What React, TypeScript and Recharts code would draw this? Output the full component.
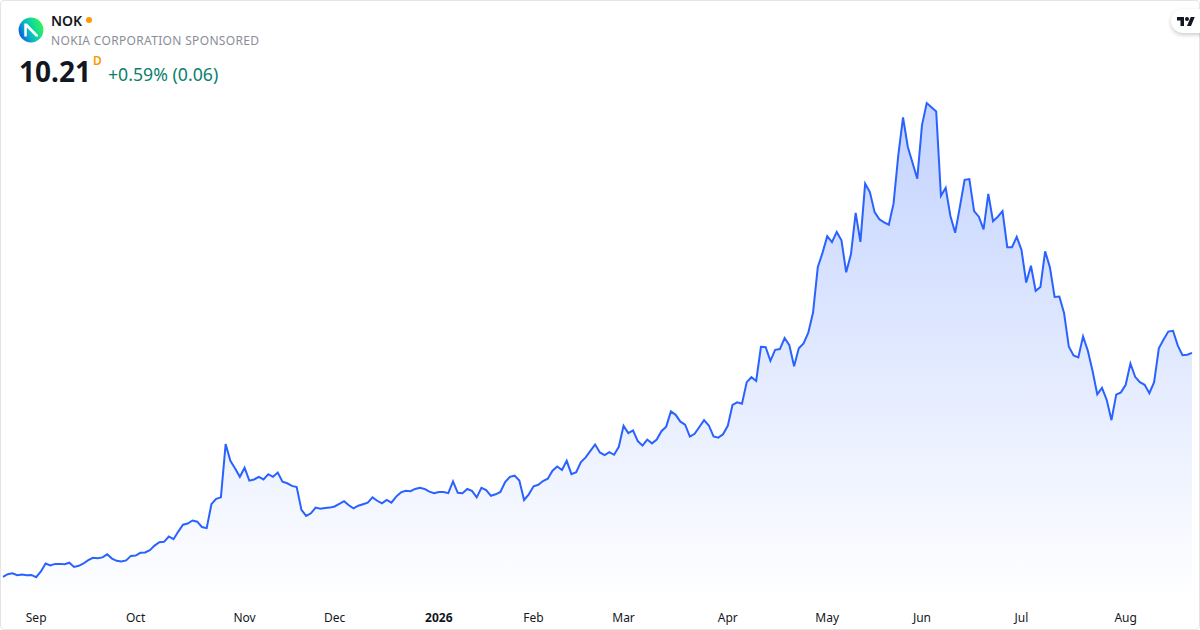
import React from "react";
import { AreaChart, Area, XAxis, YAxis } from "recharts";

const prices: number[] = [
  4.32, 4.39, 4.41, 4.36, 4.38, 4.36, 4.37, 4.31, 4.46, 4.67,
  4.62, 4.66, 4.66, 4.65, 4.69, 4.58, 4.61, 4.67, 4.76, 4.82,
  4.81, 4.83, 4.91, 4.80, 4.74, 4.72, 4.75, 4.87, 4.88, 4.95,
  4.96, 5.02, 5.14, 5.23, 5.24, 5.38, 5.31, 5.51, 5.69, 5.72,
  5.80, 5.77, 5.63, 5.60, 6.23, 6.37, 6.41, 7.81, 7.37, 7.17,
  6.95, 7.19, 6.85, 6.88, 6.95, 6.88, 7.02, 6.95, 7.06, 6.82,
  6.78, 6.71, 6.68, 6.08, 5.92, 5.99, 6.14, 6.11, 6.13, 6.14,
  6.17, 6.24, 6.31, 6.20, 6.12, 6.19, 6.23, 6.27, 6.41, 6.32,
  6.25, 6.34, 6.27, 6.43, 6.54, 6.58, 6.57, 6.63, 6.66, 6.63,
  6.56, 6.52, 6.55, 6.55, 6.52, 6.83, 6.53, 6.52, 6.63, 6.58,
  6.41, 6.66, 6.60, 6.45, 6.49, 6.55, 6.81, 6.95, 6.98, 6.85,
  6.34, 6.49, 6.70, 6.74, 6.84, 6.90, 7.11, 7.22, 7.13, 7.37,
  7.02, 7.07, 7.34, 7.46, 7.63, 7.80, 7.59, 7.52, 7.60, 7.53,
  7.74, 8.29, 8.10, 8.17, 7.89, 7.77, 7.93, 7.83, 7.93, 8.15,
  8.27, 8.67, 8.58, 8.40, 8.32, 8.01, 8.08, 8.26, 8.44, 8.30,
  8.01, 7.98, 8.07, 8.29, 8.84, 8.91, 8.87, 9.44, 9.57, 9.47,
  10.37, 10.36, 10.00, 10.29, 10.31, 10.60, 10.41, 9.86, 10.33, 10.46,
  10.74, 11.27, 12.46, 12.84, 13.28, 13.12, 13.39, 13.17, 12.33, 12.80,
  13.89, 13.13, 14.66, 14.44, 13.91, 13.72, 13.64, 13.58, 14.14, 15.41,
  16.40, 15.63, 15.21, 14.79, 16.20, 16.78, 16.67, 16.56, 14.34, 14.55,
  13.81, 13.37, 14.05, 14.76, 14.78, 13.94, 13.79, 13.46, 14.39, 13.67,
  13.79, 13.94, 12.99, 12.99, 13.26, 12.92, 12.06, 12.50, 11.84, 11.94,
  12.88, 12.46, 11.68, 11.69, 11.25, 10.37, 10.14, 10.09, 10.64, 10.27,
  9.74, 9.12, 9.29, 8.97, 8.44, 9.11, 9.17, 9.37, 9.93, 9.58,
  9.44, 9.37, 9.15, 9.44, 10.33, 10.56, 10.77, 10.79, 10.40, 10.15,
  10.16, 10.21,
];
const tickIndices: number[] = [7, 28, 51, 70, 92, 112, 131, 153, 174, 194, 215, 237];
const tickLabels: string[] = ["Sep", "Oct", "Nov", "Dec", "2026", "Feb", "Mar", "Apr", "May", "Jun", "Jul", "Aug"];
const boldLabels: string[] = ["2026"];
const priceDomain: [number, number] = [3.71, 19.49];

const symbol = "NOK";
const companyName = "NOKIA CORPORATION SPONSORED";
const lastPrice = "10.21";
const interval = "D";
const change = "+0.59% (0.06)";

const data = prices.map((price, i) => ({ i, price }));
const FONT = '"Noto Sans", sans-serif';
const LINE = "#2962ff";

function XTick(props: any) {
  const { x, y, payload } = props;
  const label = tickLabels[tickIndices.indexOf(payload.value)];
  const bold = boldLabels.includes(label);
  return (
    <text x={x} y={y} dy={14} textAnchor="middle" fontFamily={FONT} fontSize={12}
      fontWeight={bold ? 700 : 400} fill="#131722">
      {label}
    </text>
  );
}

function Logo() {
  return (
    <svg width="26" height="26" viewBox="0 0 26 26" style={{ position: "absolute", left: 18, top: 17 }}>
      <defs>
        <linearGradient id="lg" x1="0.05" y1="0.8" x2="0.95" y2="0.4">
          <stop offset="0" stopColor="#0a55e0" />
          <stop offset="0.4" stopColor="#08b4c8" />
          <stop offset="0.75" stopColor="#14e08c" />
          <stop offset="1" stopColor="#30ee60" />
        </linearGradient>
      </defs>
      <circle cx="13" cy="13" r="12.4" fill="url(#lg)" />
      <path d="M6.3 19.5V6.5h2.5L20 18v1.5h-2.3L8.8 10.6v8.9z" fill="#fff" />
    </svg>
  );
}

export default function App() {
  return (
    <div style={{ position: "absolute", left: 0, top: 0, width: 1200, height: 630, background: "#fff", overflow: "hidden" }}>
      <AreaChart width={1200} height={630} data={data} margin={{ top: 0, right: 8, bottom: 0, left: 3 }}>
        <defs>
          <linearGradient id="fillGrad" x1="0" y1="0" x2="0" y2="1">
            <stop offset="0" stopColor={LINE} stopOpacity={0.28} />
            <stop offset="1" stopColor={LINE} stopOpacity={0} />
          </linearGradient>
        </defs>
        <XAxis dataKey="i" type="number" domain={[0, 251]} ticks={tickIndices} interval={0}
          axisLine={false} tickLine={false} height={30} tick={<XTick />} />
        <YAxis hide domain={priceDomain} />
        <Area type="linear" dataKey="price" stroke={LINE} strokeWidth={2} fill="url(#fillGrad)" fillOpacity={1}
          isAnimationActive={false} dot={false} activeDot={false} />
      </AreaChart>

      <div style={{ position: "absolute", inset: 0, border: "1px solid #e4e4e6", borderRadius: 4, boxSizing: "border-box", pointerEvents: "none" }} />
      <Logo />
      <div style={{ position: "absolute", left: 51, top: 12, fontFamily: FONT, fontSize: 14, fontWeight: 600, lineHeight: "18px", color: "#131722" }}>{symbol}</div>
      <div style={{ position: "absolute", left: 86, top: 17, width: 6, height: 6, borderRadius: 3, background: "#ff9800" }} />
      <div style={{ position: "absolute", left: 51, top: 32, fontFamily: FONT, fontSize: 12, letterSpacing: "0.33px", lineHeight: "18px", color: "#8a8d96", whiteSpace: "nowrap" }}>{companyName}</div>
      <div style={{ position: "absolute", left: 19, top: 52, fontFamily: FONT, fontSize: 28, fontWeight: 700, lineHeight: "38px", color: "#131722" }}>{lastPrice}</div>
      <div style={{ position: "absolute", left: 93, top: 53, fontFamily: FONT, fontSize: 12, fontWeight: 600, lineHeight: "16px", color: "#ff9800" }}>{interval}</div>
      <div style={{ position: "absolute", left: 108, top: 62, fontFamily: FONT, fontSize: 17.7, lineHeight: "25px", color: "#0a7f6e", whiteSpace: "nowrap" }}>{change}</div>

      <div style={{ position: "absolute", left: 1171, top: 9, width: 40, height: 24, borderRadius: 12, background: "#fff", boxShadow: "0 2px 4px rgba(0,0,0,0.2)" }} />
      <svg width="18" height="14" viewBox="0 0 36 28" style={{ position: "absolute", left: 1177, top: 15 }}>
        <path d="M14 22H7V11H0V4h14v18zM28 22h-8l7.5-18h8L28 22z" fill="#131722" />
        <circle cx="20" cy="8" r="4" fill="#131722" />
      </svg>
    </div>
  );
}
